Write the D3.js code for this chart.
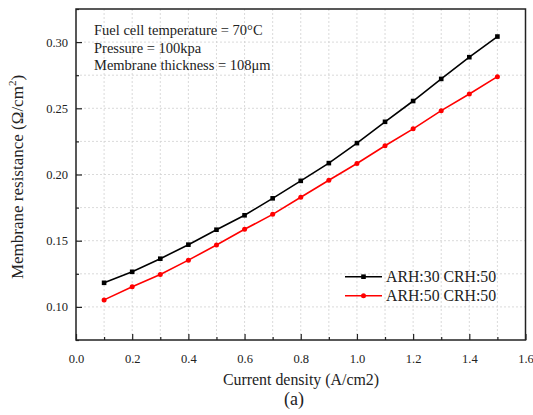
<!DOCTYPE html>
<html>
<head>
<meta charset="utf-8">
<script src="https://cdn.jsdelivr.net/npm/d3@7"></script>
<style>
  body { margin: 0; background: #fff; }
  text { font-family: "Liberation Serif", "Times New Roman", serif; fill: #222; }
</style>
</head>
<body>
<svg></svg>
<script>
const currentDensity = [0.1, 0.2, 0.3, 0.4, 0.5, 0.6, 0.7, 0.8, 0.9, 1.0, 1.1, 1.2, 1.3, 1.4, 1.5];
const arh30 = [0.1182, 0.1265, 0.1364, 0.1470, 0.1583, 0.1692, 0.1820, 0.1952, 0.2086, 0.2237, 0.2398, 0.2555, 0.2722, 0.2886, 0.3042];
const arh50 = [0.1053, 0.1152, 0.1245, 0.1353, 0.1467, 0.1586, 0.1699, 0.1828, 0.1957, 0.2083, 0.2217, 0.2345, 0.2482, 0.2608, 0.2739];
const seriesNames = ['ARH:30 CRH:50', 'ARH:50 CRH:50'];
const xTicks = [0, 0.2, 0.4, 0.6, 0.8, 1.0, 1.2, 1.4, 1.6];
const yTicks = [0.10, 0.15, 0.20, 0.25, 0.30];
const notes = ['Fuel cell temperature = 70°C', 'Pressure = 100kpa', 'Membrane thickness = 108μm'];

const width = 533, height = 415;
const plotLeft = 76, plotRight = 525.5, plotTop = 9, plotBottom = 340;

let svg = d3.select('svg')
  .attr('width', width)
  .attr('height', height);

let x = d3.scaleLinear().domain([0, 1.6]).range([plotLeft, plotRight]);
let y = d3.scaleLinear().domain([0.075, 0.325]).range([plotBottom, plotTop]);

// grid, major + minor
let xGrid = d3.range(0.1, 1.6, 0.1);
let yGrid = d3.range(0.1, 0.325, 0.025);
svg.append('g').selectAll('line').data(xGrid).join('line')
  .attr('x1', d => x(d)).attr('x2', d => x(d))
  .attr('y1', plotTop).attr('y2', plotBottom)
  .attr('stroke', '#d0d0d0').attr('stroke-width', 0.8)
  .attr('stroke-dasharray', '2,2');
svg.append('g').selectAll('line').data(yGrid).join('line')
  .attr('x1', plotLeft).attr('x2', plotRight)
  .attr('y1', d => y(d)).attr('y2', d => y(d))
  .attr('stroke', '#d0d0d0').attr('stroke-width', 0.8)
  .attr('stroke-dasharray', '2,2');

// axes with inward ticks
let xAxis = svg.append('g').attr('transform', `translate(0,${plotBottom})`)
  .call(d3.axisBottom(x).tickValues(xTicks).tickSize(-6).tickPadding(14).tickFormat(d3.format('.1f')));
let xMinor = svg.append('g').attr('transform', `translate(0,${plotBottom})`)
  .call(d3.axisBottom(x).tickValues(d3.range(0.1, 1.6, 0.2)).tickSize(-3).tickFormat(''));
let yAxis = svg.append('g').attr('transform', `translate(${plotLeft},0)`)
  .call(d3.axisLeft(y).tickValues(yTicks).tickSize(-6).tickPadding(8).tickFormat(d3.format('.2f')));
let yMinor = svg.append('g').attr('transform', `translate(${plotLeft},0)`)
  .call(d3.axisLeft(y).tickValues(d3.range(0.075, 0.33, 0.05)).tickSize(-3).tickFormat(''));

[xAxis, xMinor, yAxis, yMinor].forEach(g => {
  g.select('.domain').remove();
  g.selectAll('line').attr('stroke', '#222').attr('stroke-width', 1.2);
  g.selectAll('text').style('font-size', '12.5px').attr('fill', '#222');
});

// frame
svg.append('rect')
  .attr('x', plotLeft).attr('y', plotTop)
  .attr('width', plotRight - plotLeft).attr('height', plotBottom - plotTop)
  .attr('fill', 'none').attr('stroke', '#222').attr('stroke-width', 1.5);

let line = d3.line().x(d => x(d[0])).y(d => y(d[1]));
let s1 = currentDensity.map((d, i) => [d, arh30[i]]);
let s2 = currentDensity.map((d, i) => [d, arh50[i]]);

svg.append('path').attr('d', line(s1))
  .attr('fill', 'none').attr('stroke', '#000').attr('stroke-width', 1.6);
svg.append('path').attr('d', line(s2))
  .attr('fill', 'none').attr('stroke', '#ff0000').attr('stroke-width', 1.6);

svg.append('g').selectAll('rect').data(s1).join('rect')
  .attr('x', d => x(d[0]) - 2.3).attr('y', d => y(d[1]) - 2.3)
  .attr('width', 4.6).attr('height', 4.6).attr('fill', '#000');
svg.append('g').selectAll('circle').data(s2).join('circle')
  .attr('cx', d => x(d[0])).attr('cy', d => y(d[1]))
  .attr('r', 2.5).attr('fill', '#ff0000');

// annotation
svg.append('g').selectAll('text').data(notes).join('text')
  .attr('x', 94).attr('y', (d, i) => 35 + i * 17.7)
  .style('font-size', '14.5px')
  .text(d => d);

// legend
let legend = svg.append('g');
let legendY = [276.7, 295.7];
legend.append('line').attr('x1', 345).attr('x2', 382).attr('y1', legendY[0]).attr('y2', legendY[0])
  .attr('stroke', '#000').attr('stroke-width', 1.6);
legend.append('rect').attr('x', 363.5 - 2.3).attr('y', legendY[0] - 2.3)
  .attr('width', 4.6).attr('height', 4.6).attr('fill', '#000');
legend.append('line').attr('x1', 345).attr('x2', 382).attr('y1', legendY[1]).attr('y2', legendY[1])
  .attr('stroke', '#ff0000').attr('stroke-width', 1.6);
legend.append('circle').attr('cx', 363.5).attr('cy', legendY[1]).attr('r', 2.5).attr('fill', '#ff0000');
legend.selectAll('text').data(seriesNames).join('text')
  .attr('x', 386).attr('y', (d, i) => legendY[i] + 5.5)
  .style('font-size', '15.8px')
  .text(d => d);

// axis titles
svg.append('text')
  .attr('x', 301).attr('y', 385)
  .attr('text-anchor', 'middle')
  .style('font-size', '15.9px')
  .text('Current density (A/cm2)');

svg.append('text')
  .attr('x', 294).attr('y', 405)
  .attr('text-anchor', 'middle')
  .style('font-size', '18px')
  .text('(a)');

let yTitle = svg.append('text')
  .attr('transform', 'translate(23,177) rotate(-90)')
  .attr('text-anchor', 'middle')
  .style('font-size', '17px');
yTitle.append('tspan').text('Membrane resistance (Ω/cm');
yTitle.append('tspan').attr('dy', -7).style('font-size', '11px').text('2');
yTitle.append('tspan').attr('dy', 7).text(')');
</script>
</body>
</html>
